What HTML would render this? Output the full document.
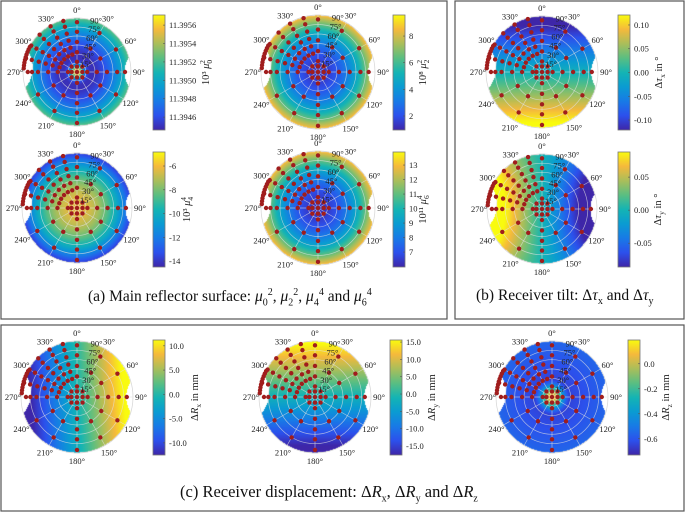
<!DOCTYPE html>
<html><head><meta charset="utf-8">
<style>
html,body{margin:0;padding:0;background:#fff;}
#wrap{position:relative;width:685px;height:512px;overflow:hidden;font-family:"Liberation Serif",serif;}
canvas{position:absolute;left:0;top:0;}
svg{position:absolute;left:0;top:0;}
.cap{position:absolute;font-family:"Liberation Serif",serif;color:#111;white-space:nowrap;}
.cap i{font-style:italic;}
.cap sub,.cap sup{font-size:10px;}
</style></head>
<body>
<div id="wrap">
<canvas id="fld" width="685" height="512"></canvas>
<svg id="ov" width="685" height="512"></svg>
<div class="cap" style="left:88px;top:287px;font-size:15.5px;">(a) Main reflector surface: <i>μ</i><sub>0</sub><sup>2</sup>, <i>μ</i><sub>2</sub><sup>2</sup>, <i>μ</i><sub>4</sub><sup>4</sup> and <i>μ</i><sub>6</sub><sup>4</sup></div>
<div class="cap" style="left:476px;top:287px;font-size:15.5px;">(b) Receiver tilt: Δ<i>τ</i><sub>x</sub> and Δ<i>τ</i><sub>y</sub></div>
<div class="cap" style="left:180px;top:482px;font-size:16.5px;">(c) Receiver displacement: Δ<i>R</i><sub>x</sub>, Δ<i>R</i><sub>y</sub> and Δ<i>R</i><sub>z</sub></div>
</div>
<script>
// ---- data ----
const angleLabels = [0,30,60,90,120,150,180,210,240,270,300,330];
const zenithRings = [15,30,45,60,75,90];
const spokeNorthZ = [17,33,50,67,83];
const spokeEastZ = [17,33,50,67,80];
const spokeSouthZ = [18,35,52,68,85];
const spokeWestZ = [15,32,48,65,75,82];
const spokeDiag = [30,60,120,150,210,240];
const spokeDiagZ = [45,75];
const gridAz = [285,300,315,330,345];
const gridZ = [30,42,54,66,78,88];
const edgeAz = [274,277,280,283,286,289,292,295,298];
const edgeZ = [89];
const centerAz = [0,45,90,135,180,225,270,315];
const centerZ = [9];

const ticks1=[11.3946,11.3948,11.3950,11.3952,11.3954,11.3956];
const ticks2=[2,4,6,8];
const ticks3=[-14,-12,-10,-8,-6];
const ticks4=[7,8,9,10,11,12,13];
const ticksB1=[-0.10,-0.05,0.00,0.05,0.10];
const ticksB2=[-0.05,0.00,0.05];
const ticksC1=[-10,-5,0,5,10];
const ticksC2=[-15,-10,-5,0,5,10,15];
const ticksC3=[-0.6,-0.4,-0.2,0.0];

const parula=[[62,38,168],[44,80,236],[24,122,230],[10,155,210],[20,180,180],[90,190,130],[170,190,90],[245,185,60],[249,251,14]];
function cmap(t){t=Math.max(0,Math.min(1,t));const s=t*(parula.length-1);const i=Math.min(parula.length-2,Math.floor(s));const f=s-i;
 const a=parula[i],b=parula[i+1];return [a[0]+(b[0]-a[0])*f,a[1]+(b[1]-a[1])*f,a[2]+(b[2]-a[2])*f];}

// label parts: [prefix, italic symbol, subscript, superscript, suffix]
const plots=[
 {id:'mu02',cx:77,cy:72,R:54,cb:[153,15,130],vmin:11.39446,vmax:11.39571,ticks:ticks1,dec:4,lx:209,label:['10³ ','μ','0','2','']},
 {id:'mu22',cx:318,cy:72,R:57,cb:[393,15,130],vmin:0.95,vmax:9.58,ticks:ticks2,dec:0,lx:426,label:['10⁸ ','μ','2','2','']},
 {id:'mu44',cx:77,cy:208,R:55,cb:[153,152,267],vmin:-14.5,vmax:-4.82,ticks:ticks3,dec:0,lx:190,label:['10³ ','μ','4','4','']},
 {id:'mu64',cx:318,cy:208,R:57,cb:[393,152,267],vmin:5.97,vmax:13.9,ticks:ticks4,dec:0,lx:426,label:['10¹¹ ','μ','6','4','']},
 {id:'tx',cx:542,cy:72,R:56,cb:[618,15,130],vmin:-0.121,vmax:0.121,ticks:ticksB1,dec:2,lx:662,label:['Δ','τ','x','',' in °']},
 {id:'ty',cx:542,cy:209,R:55,cb:[618,152,267],vmin:-0.086,vmax:0.088,ticks:ticksB2,dec:2,lx:661,label:['Δ','τ','y','',' in °']},
 {id:'rx',cx:77,cy:397,R:56,cb:[153,340,455],vmin:-12.5,vmax:11.2,ticks:ticksC1,dec:1,lx:198,label:['Δ','R','x','',' in mm']},
 {id:'ry',cx:315,cy:397,R:56,cb:[390,340,455],vmin:-17.6,vmax:15.6,ticks:ticksC2,dec:1,lx:435,label:['Δ','R','y','',' in mm']},
 {id:'rz',cx:552,cy:397,R:56,cb:[628,340,455],vmin:-0.73,vmax:0.19,ticks:ticksC3,dec:1,lx:669,label:['Δ','R','z','',' in mm']},
];
const fields={
 mu02:(u,v,r)=>Math.max(0.97*Math.exp(-((r/0.13)**2)),0.03+0.6*Math.pow(Math.max(0,(r-0.3)/0.7),1.5)),
 mu22:(u,v,r)=>0.05+0.85*r*r,
 mu44:(u,v,r)=>0.86-0.8*r*r,
 mu64:(u,v,r)=>0.04+0.86*r*r,
 tx:(u,v,r)=>0.48-0.58*v,
 ty:(u,v,r)=>0.5-0.75*u*(1-0.5*v*v),
 rx:(u,v,r)=>0.5+0.6*u+0.05*v,
 ry:(u,v,r)=>0.48+0.55*v,
 rz:(u,v,r)=>Math.max(0.93*Math.exp(-((r/0.2)**2)),0.04+0.15*r)
};

function inShape(dx,dy,R){
 const x=dx/R,y=dy/R;
 if(x*x+y*y>0.985) return false;
 const lx=x+1.4, ly=y+0.08; if(lx*lx+ly*ly<0.58*0.58) return false;
 const rx=x-1.38, ry=y; if(rx*rx+ry*ry<0.5*0.5) return false;
 return true;}

const ctx=document.getElementById('fld').getContext('2d');
const img=ctx.createImageData(685,512);
plots.forEach(p=>{
 const f=fields[p.id];
 for(let y=Math.floor(p.cy-p.R);y<=p.cy+p.R;y++)for(let x=Math.floor(p.cx-p.R);x<=p.cx+p.R;x++){
  const dx=x+0.5-p.cx,dy=y+0.5-p.cy; if(!inShape(dx,dy,p.R)) continue;
  const u=dx/p.R,v=-dy/p.R,r=Math.sqrt(u*u+v*v);
  const c=cmap(f(u,v,r)); const k=(y*685+x)*4;
  img.data[k]=c[0];img.data[k+1]=c[1];img.data[k+2]=c[2];img.data[k+3]=255;}
});
ctx.putImageData(img,0,0);

const NS='http://www.w3.org/2000/svg';
const svg=document.getElementById('ov');
function el(t,a,parent){const e=document.createElementNS(NS,t);for(const k in a)e.setAttribute(k,a[k]);(parent||svg).appendChild(e);return e;}

let b=el('rect',{x:1,y:1,width:446,height:318,fill:'none',stroke:'#555','stroke-width':1.2});


b=el('rect',{x:455,y:1,width:229,height:318,fill:'none',stroke:'#555','stroke-width':1.2});


b=el('rect',{x:1,y:325,width:683,height:186,fill:'none',stroke:'#555','stroke-width':1.2});



const defs=el('defs',{});
const lg=el('linearGradient',{id:'parg',x1:0,y1:1,x2:0,y2:0},defs);
parula.forEach((c,i)=>el('stop',{offset:(i/(parula.length-1)),'stop-color':`rgb(${c.join(',')})`},lg));

function pt(p,az,z){const a=az*Math.PI/180,r=z/90*p.R;return [p.cx+r*Math.sin(a),p.cy-r*Math.cos(a)];}

plots.forEach(p=>{
 const g=el('g',{});
 
 
 zenithRings.forEach(z=>{const c=el('circle',{cx:p.cx,cy:p.cy,r:z/90*p.R,fill:'none',stroke:z===90?'#d4d4d4':'rgba(225,225,225,0.7)','stroke-width':0.7},g);
  
  });
 angleLabels.forEach(a=>{const e=pt(p,a,90);const l=el('line',{x1:p.cx,y1:p.cy,x2:e[0],y2:e[1],stroke:'rgba(225,225,225,0.7)','stroke-width':0.7},g);
  
  
  const q=pt(p,a,90+13);const t=el('text',{x:q[0],y:q[1]+3,'font-size':8.5,'text-anchor':'middle',fill:'#222'},g);t.textContent=a+'°';
  
  });
 const pts=[];
 spokeNorthZ.forEach(z=>pts.push([0,z]));
 spokeEastZ.forEach(z=>pts.push([90,z]));
 spokeSouthZ.forEach(z=>pts.push([180,z]));
 spokeWestZ.forEach(z=>pts.push([270,z]));
 spokeDiag.forEach(a=>spokeDiagZ.forEach(z=>pts.push([a,z])));
 gridAz.forEach(a=>gridZ.forEach(z=>pts.push([a,z])));
 edgeAz.forEach(a=>edgeZ.forEach(z=>pts.push([a,z])));
 centerAz.forEach(a=>centerZ.forEach(z=>pts.push([a,(a%90===0)?z:z*1.41])));
 pts.push([0,0]);
 pts.forEach(s=>{const q=pt(p,s[0],s[1]);const c=el('circle',{cx:q[0],cy:q[1],r:2.2,fill:'#a01d1d'},g);
  
  });
 zenithRings.forEach(z=>{const q=pt(p,13,z);const t=el('text',{x:q[0]+1,y:q[1]+4,'font-size':8.5,fill:'#222'},g);t.textContent=z+'°';
  
  });
 const x=p.cb[0],y0=p.cb[1],y1=p.cb[2];
 const cb=el('rect',{x:x,y:y0,width:12,height:y1-y0,fill:'url(#parg)',stroke:'#777','stroke-width':0.8},g);
 
 
 p.ticks.forEach(tv=>{const ty=y1-(tv-p.vmin)/(p.vmax-p.vmin)*(y1-y0);
  el('line',{x1:x+10,y1:ty,x2:x+12,y2:ty,stroke:'#555','stroke-width':0.6},g);
  const t=el('text',{x:x+16,y:ty+3,'font-size':8.5,fill:'#222'},g);t.textContent=tv.toFixed(p.dec);
  
  });
 const ym=(y0+y1)/2;
 const tt=el('text',{x:p.lx,y:ym,'font-size':10.5,fill:'#222','text-anchor':'middle',transform:`rotate(-90 ${p.lx} ${ym})`},g);
 el('tspan',{},tt).textContent=p.label[0];
 el('tspan',{'font-style':'italic'},tt).textContent=p.label[1];
 if(p.label[2]) el('tspan',{dy:3,'font-size':7.5},tt).textContent=p.label[2];
 if(p.label[3]) el('tspan',{dy:-7,dx:-4,'font-size':7.5},tt).textContent=p.label[3];
 const dyBack = p.label[3]?4:-3;
 if(p.label[4]) el('tspan',{dy:dyBack},tt).textContent=p.label[4];
 
 
});
</script>
</body></html>
